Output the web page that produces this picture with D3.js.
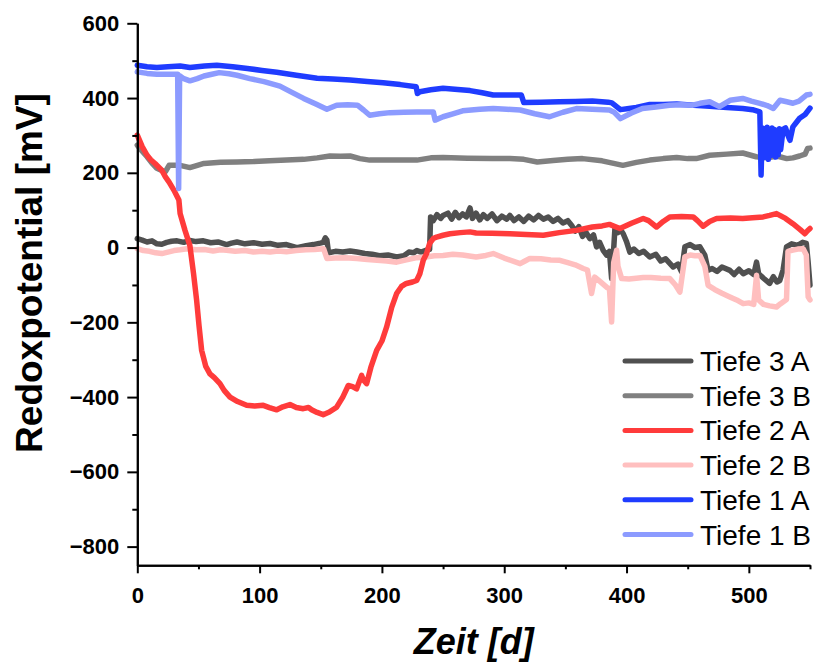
<!DOCTYPE html>
<html>
<head>
<meta charset="utf-8">
<script src="https://cdn.jsdelivr.net/npm/d3@7"></script>
<style>
  body { margin: 0; background: #fff; }
  svg { display: block; }
  .axis text { font-family: "Liberation Sans", Arial, sans-serif; font-weight: bold; font-size: 22px; fill: #000; }
</style>
</head>
<body>
<div id="container"></div>
<script>
// ******* Data: [day, mV] *******
var tiefe3A = [[0,24],[4,20],[8,15],[12,18],[16,10],[20,9],[24,14],[28,17],[32.5,18],[38,14],[43,19],[48,16],[54,18],[60,13],[66,15],[73,8],[77,12],[81.5,15],[88,10],[95,13],[102,9],[108.5,11],[115,6],[122,8],[130.5,0],[138,5],[144,8],[149.6,12],[152,14],[153.7,26],[155,20],[156.4,-14],[162,-10],[168,-12],[174,-9],[179.6,-12],[186,-16],[192,-18],[198,-22],[205,-20],[212,-25],[218,-22],[222,-12],[226,-14],[228.6,-8],[232,-12],[236.5,-7],[239,-5],[239.8,82],[242,72],[245,88],[248,78],[250,86],[254,92],[257,76],[260,94],[263,80],[266,90],[269,82],[272,106],[274,78],[277,92],[280,74],[283,88],[286,78],[290,90],[294,72],[298,84],[302,76],[304.6,86],[308,72],[312,82],[316,70],[320,84],[324,74],[328,86],[332,76],[336,82],[340,70],[344,78],[348,66],[352,72],[355,60],[358,44],[361,56],[364,30],[367,40],[370,24],[373,34],[375.5,2],[378,14],[381,-8],[383.7,-20],[386,-10],[387.8,-83],[389,-30],[390.5,51],[393,40],[395,48],[397.3,37],[400,16],[402.7,-12],[406,-4],[410,-16],[414,-10],[419,-25],[424,-18],[428,-36],[432,-30],[438.2,-52],[442,-44],[445,-65],[447.7,2],[452,8],[456,0],[460,2],[464,-20],[466.7,-61],[470,-56],[474,-64],[478,-52],[484.5,-61],[488,-72],[492,-58],[495.4,-70],[500,-62],[504,-72],[506.3,-39],[508,-70],[512,-82],[517,-96],[520,-78],[523,-92],[525.3,-88],[528,-60],[530.8,2],[535,10],[540,6],[544,14],[547,11],[548.5,-40],[550,-101]];

var tiefe3B = [[0,274],[4,258],[8,243],[12,226],[16,212],[20,206],[23,203],[26,220],[35,220],[43,214],[54.5,225],[68,228],[81.5,229],[95,230],[108,232],[122,234],[136,236],[147,240],[157.5,245],[166,244],[174,245],[182,238],[190,234],[210,234],[228.6,234],[240,240],[250,241],[270,239],[290,238],[304.6,238],[316,236],[327,229],[340,233],[352,236],[364,238],[380,232],[397,220],[408,228],[419,234],[430,238],[441,241],[450,238],[457,238],[468,247],[482,250],[495,253],[506,243],[515,240],[523,245],[531,238],[536,240],[541.5,245],[546,250],[548,265],[550,266]];

var tiefe2A = [[0,301],[4,270],[8,247],[11,235],[14.5,225],[20,207],[23,189],[26,175],[30,153],[34,127],[35,91],[39,46],[43,5],[46,-70],[48.5,-141],[50.5,-210],[52.6,-275],[56,-318],[59.4,-338],[63,-348],[67.6,-364],[71,-382],[75.8,-400],[82,-412],[89.4,-422],[96,-424],[103,-422],[108,-428],[114,-434],[119,-426],[124.8,-420],[130,-428],[135.7,-431],[140,-428],[142.5,-434],[147,-441],[152,-447],[157,-440],[163,-427],[168,-400],[172.5,-369],[176,-372],[179.3,-378],[183.4,-342],[185,-355],[187.5,-364],[191,-320],[195.7,-275],[200,-250],[203.8,-213],[208,-160],[212,-123],[216,-104],[220,-96],[225,-92],[228.4,-88],[231,-70],[233.8,-34],[236.5,-16],[239,11],[242,24],[244.7,28],[250,33],[255.6,37],[264,40],[272,42],[277,39],[290,38],[304.6,37],[318,35],[332,33],[345,40],[359,46],[372,55],[380,58],[386,62],[394.6,51],[404,65],[413.6,78],[418,72],[424.5,55],[430,70],[435.4,82],[445,83],[454.5,82],[458,72],[462.6,57],[468,70],[473.6,78],[485,79],[495,78],[503,80],[511.7,82],[517,86],[522.6,91],[530,78],[536,64],[542,48],[545.8,37],[548,45],[550,51]];

var tiefe2B = [[0,-3],[5,-8],[10,-10],[15,-14],[20,-16],[25,-12],[30,-8],[35,-6],[40.6,-3],[48,-6],[55,-5],[62,-9],[68,-6],[73,-7],[80,-10],[88,-8],[95,-12],[102,-10],[108.5,-12],[115,-9],[122,-11],[130,-8],[138,-6],[145,-5],[152.3,-3],[155,-29],[162,-28],[170,-27],[179.6,-29],[188,-32],[196,-34],[204,-36],[212,-39],[220,-33],[228.6,-27],[236,-25],[243,-22],[250,-21],[258,-18],[266,-20],[277,-25],[285,-21],[291,-16],[300,-28],[313,-43],[317,-36],[321,-29],[330,-30],[338,-33],[345.5,-34],[352,-40],[358,-46],[364.6,-56],[368,-60],[371.4,-123],[374,-79],[378,-90],[383.7,-106],[386,-110],[387.8,-199],[389.5,-40],[391.9,-7],[393,-50],[396,-83],[402,-84],[408,-82],[413.6,-80],[420,-80],[428,-82],[435.4,-83],[440,-100],[443.6,-119],[447.7,-25],[452,-20],[456,-22],[460,-21],[464,-50],[466.7,-101],[472,-112],[478,-122],[484.5,-132],[490,-140],[495.4,-150],[500,-148],[504,-152],[506.3,-74],[508,-140],[512,-152],[517,-156],[522.6,-159],[526,-150],[530.8,-139],[532,-10],[536,-7],[540,-4],[544.4,-3],[547,-20],[548.5,-132],[550,-140]];

var tiefe1A = [[0,488],[8,484],[16,482],[25,484],[35,486],[43,482],[55,486],[65,488],[78,484],[90,479],[102,474],[114,469],[130,461],[147,453],[160,451],[174,448],[188,444],[201,441],[215,436],[228,430],[229,412],[231,417],[240,422],[250,426],[262,423],[272,420],[282,414],[291,408],[303,408],[314,408],[316,388],[330,389],[345,390],[358,391],[372,392],[385,389],[388,387],[395,369],[402,372],[408,375],[419,383],[430,383],[441,384],[455,381],[468,378],[482,375],[495,372],[503,369],[509,363],[510,194],[511,320],[512,240],[513,318],[514,250],[515,322],[516,236],[517,315],[518,246],[519,320],[520,250],[521,316],[522,242],[523,312],[524,248],[525,318],[526,262],[528,316],[530,320],[532,300],[533.6,287],[536,323],[541.5,346],[546,356],[550,373]];

var tiefe1B = [[0,470],[8,466],[16,464],[25,464],[33,464],[33.8,158],[34.6,460],[38,452],[43,446],[49,452],[54.5,459],[60,463],[67,468],[75,465],[81.5,461],[92,452],[103.6,444],[116.6,432],[126,416],[136,399],[146,384],[155,370],[163,381],[172,382],[180,381],[185,368],[190,354],[198,358],[206.6,361],[218,362],[228.6,363],[242,363],[243.5,341],[250,350],[258,358],[266,366],[280,370],[291,372],[302,370],[313,368],[325,358],[337,350],[348,362],[359,372],[372,370],[386,368],[390,362],[395,345],[404,360],[413,372],[424,376],[435,381],[445,382],[454,381],[460,386],[468,390],[476,377],[484.6,394],[495,399],[502,392],[509,386],[515,380],[520,372],[525.5,394],[531,390],[536,386],[541,392],[547,408],[550,410]];

var seriesNames = ["Tiefe 3 A", "Tiefe 3 B", "Tiefe 2 A", "Tiefe 2 B", "Tiefe 1 A", "Tiefe 1 B"];
var seriesData = [tiefe3A, tiefe3B, tiefe2A, tiefe2B, tiefe1A, tiefe1B];
var seriesColors = ["#505050", "#808080", "#ff3b3b", "#ffbfbf", "#1f3cff", "#8c9bff"];
var drawOrder = [0, 1, 3, 2, 4, 5]; // red sits on top of pink in the picture

var xMajor = [0, 100, 200, 300, 400, 500];
var xMinor = [50, 150, 250, 350, 450, 550];
var yMajor = [-800, -600, -400, -200, 0, 200, 400, 600];
var yMinor = [-700, -500, -300, -100, 100, 300, 500];

// ******* Canvas *******
var width = 814, height = 663;
var plotLeft = 137.3, plotRight = 810, plotTop = 23.3, plotBottom = 565.3;

var svg = d3.select("#container").append("svg")
  .attr("width", width)
  .attr("height", height);

var x = d3.scaleLinear().domain([0, 550]).range([plotLeft, plotRight]);
var y = d3.scaleLinear().domain([-850, 600]).range([plotBottom, plotTop]);

// ******* Lines *******
var line = d3.line()
  .x(function(d) { return x(d[0]); })
  .y(function(d) { return y(d[1]); });

drawOrder.forEach(function(i) {
  svg.append("path")
    .datum(seriesData[i])
    .attr("fill", "none")
    .attr("stroke", seriesColors[i])
    .attr("stroke-width", 5.5)
    .attr("stroke-linejoin", "round")
    .attr("stroke-linecap", "round")
    .attr("d", line);
});

// ******* Axes *******
svg.append("g")
  .attr("class", "axis")
  .attr("transform", "translate(0," + plotBottom + ")")
  .call(d3.axisBottom(x).tickValues(xMajor).tickSize(8).tickSizeOuter(0).tickPadding(14));
svg.append("g")
  .attr("class", "axis")
  .attr("transform", "translate(0," + plotBottom + ")")
  .call(d3.axisBottom(x).tickValues(xMinor).tickSize(4).tickSizeOuter(0).tickFormat(""));

svg.append("g")
  .attr("class", "axis")
  .attr("transform", "translate(" + plotLeft + ",0)")
  .call(d3.axisLeft(y).tickValues(yMajor).tickSize(10).tickSizeOuter(0).tickPadding(8));
svg.append("g")
  .attr("class", "axis")
  .attr("transform", "translate(" + plotLeft + ",0)")
  .call(d3.axisLeft(y).tickValues(yMinor).tickSize(5).tickSizeOuter(0).tickFormat(""));

svg.selectAll(".axis path, .axis line")
  .attr("stroke", "#000")
  .attr("stroke-width", 2);

// axis titles
svg.append("text")
  .attr("x", (plotLeft + plotRight) / 2)
  .attr("y", 654)
  .attr("text-anchor", "middle")
  .style("font-family", "Liberation Sans, Arial, sans-serif")
  .style("font-weight", "bold")
  .style("font-style", "italic")
  .style("font-size", "36px")
  .text("Zeit [d]");

svg.append("text")
  .attr("transform", "translate(42," + 273 + ")rotate(-90)")
  .attr("text-anchor", "middle")
  .style("font-family", "Liberation Sans, Arial, sans-serif")
  .style("font-weight", "bold")
  .style("font-size", "37px")
  .text("Redoxpotential [mV]");

// ******* Legend *******
var legend = svg.append("g");
seriesNames.forEach(function(name, i) {
  var ly = 361 + i * 34.7;
  legend.append("line")
    .attr("x1", 625).attr("x2", 691)
    .attr("y1", ly).attr("y2", ly)
    .attr("stroke", seriesColors[i])
    .attr("stroke-width", 5)
    .attr("stroke-linecap", "round");
  legend.append("text")
    .attr("x", 700)
    .attr("y", ly + 10)
    .style("font-family", "Liberation Sans, Arial, sans-serif")
    .style("font-size", "28px")
    .text(name);
});
</script>
</body>
</html>
